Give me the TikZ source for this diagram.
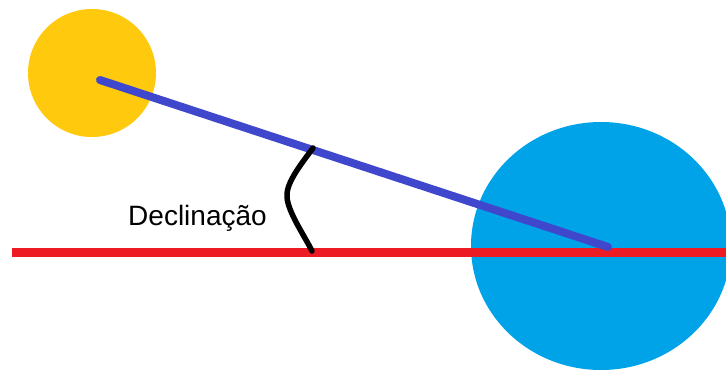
\documentclass[tikz,border=0pt]{standalone}
\usepackage{fontspec}
\setmainfont{Liberation Sans}
\usepackage{tikz}
\usetikzlibrary{shapes.geometric, positioning, calc}
\definecolor{mysun}{RGB}{255,201,14}
\definecolor{myearth}{RGB}{0,162,232}
\definecolor{myray}{RGB}{63,72,204}
\definecolor{myred}{RGB}{237,28,36}
\tikzset{
  body/.style={ellipse, fill=#1, draw=none, inner sep=0pt},
  ray/.style={line width=8pt, color=myray, line cap=round},
  horizon/.style={line width=9pt, color=myred},
  angmark/.style={line width=5.5pt, color=black, line cap=round, line join=round},
  lbl/.style={font=\fontsize{28}{30}\selectfont, text=black, inner sep=0pt}
}

\begin{document}
\begin{tikzpicture}[x=1pt, y=-1pt]
  \useasboundingbox (0,0) rectangle (726,370);

  \node[body=mysun, minimum width=128pt, minimum height=128pt] (sol) at (92,73) {};
  \node[body=myearth, minimum width=260pt, minimum height=248pt] (terra) at (601,246) {};

  \coordinate (hleft) at (12,252);
  \coordinate (hright) at (726,252);
  \coordinate (raystart) at (100,80);
  \coordinate (rayend) at (608,247);

  \draw[horizon] (hleft) -- (hright);
  \draw[ray] (raystart) -- (rayend);

  % marca do angulo
  \coordinate (angtop) at (313,148);
  \coordinate (angbot) at (312,251);
  \draw[angmark] (angtop) .. controls (298,168) and (286,184) .. (287,197)
    .. controls (288,212) and (304,235) .. (angbot);

  \node[lbl, anchor=base] (decl) at (197.5,225) {Declinação};
\end{tikzpicture}
\end{document}
